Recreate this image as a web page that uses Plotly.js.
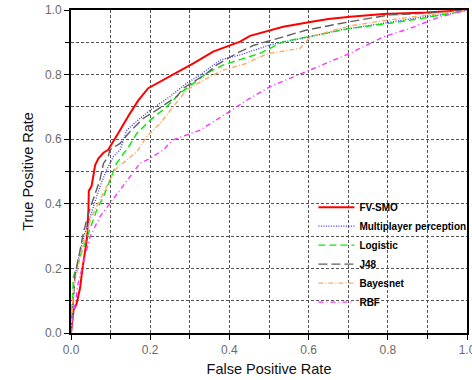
<!DOCTYPE html>
<html><head><meta charset="utf-8">
<script src="https://cdn.plot.ly/plotly-3.0.1.min.js"></script>
<style>html,body{margin:0;padding:0;background:#fff}#c{width:472px;height:380px}</style>
</head><body><div id="c"></div>
<script>
const seriesNames = ["FV-SMO","Multiplayer perception","Logistic","J48","Bayesnet","RBF"];

const smoX = [0,0.002,0.006,0.014,0.023,0.029,0.04,0.044,0.045,0.052,0.056,0.061,0.069,0.082,0.094,0.1,0.12,0.149,0.17,0.195,0.225,0.26,0.309,0.359,0.4,0.427,0.452,0.5,0.536,0.604,0.65,0.705,0.789,0.898,0.95,1];
const smoY = [0,0.02,0.07,0.09,0.14,0.2,0.29,0.38,0.44,0.455,0.485,0.52,0.54,0.558,0.567,0.58,0.62,0.68,0.72,0.758,0.778,0.8,0.835,0.871,0.89,0.902,0.92,0.935,0.948,0.963,0.972,0.979,0.988,0.992,0.995,1];

const mlpX = [0,0.002,0.01,0.018,0.035,0.056,0.073,0.09,0.107,0.124,0.141,0.17,0.2,0.25,0.292,0.326,0.376,0.427,0.477,0.503,0.604,0.679,0.789,0.89,0.957,1];
const mlpY = [0,0.05,0.174,0.226,0.309,0.391,0.453,0.505,0.546,0.567,0.628,0.66,0.69,0.732,0.773,0.799,0.845,0.861,0.881,0.892,0.917,0.938,0.959,0.979,0.988,1];

const logX = [0,0.006,0.023,0.048,0.065,0.082,0.098,0.115,0.136,0.141,0.166,0.2,0.242,0.275,0.309,0.343,0.385,0.435,0.477,0.536,0.62,0.705,0.806,0.89,1];
const logY = [0,0.174,0.236,0.319,0.381,0.422,0.474,0.525,0.561,0.567,0.618,0.659,0.701,0.742,0.773,0.804,0.83,0.85,0.866,0.902,0.923,0.943,0.959,0.975,1];

const j48X = [0,0.006,0.01,0.023,0.031,0.044,0.056,0.073,0.082,0.094,0.098,0.124,0.15,0.183,0.216,0.267,0.284,0.343,0.368,0.418,0.46,0.536,0.595,0.705,0.806,0.898,1];
const j48Y = [0,0.102,0.18,0.257,0.309,0.37,0.412,0.474,0.525,0.546,0.567,0.587,0.625,0.665,0.69,0.732,0.758,0.804,0.83,0.866,0.89,0.917,0.938,0.964,0.985,0.99,1];

const bayX = [0,0.006,0.023,0.04,0.056,0.077,0.094,0.111,0.141,0.166,0.191,0.225,0.258,0.292,0.334,0.385,0.444,0.477,0.503,0.578,0.604,0.705,0.789,0.898,1];
const bayY = [0,0.133,0.236,0.319,0.37,0.422,0.463,0.505,0.536,0.561,0.608,0.649,0.701,0.752,0.783,0.814,0.835,0.855,0.866,0.881,0.917,0.951,0.967,0.985,1];

const rbfX = [0,0.006,0.018,0.031,0.048,0.073,0.098,0.124,0.149,0.174,0.2,0.233,0.258,0.326,0.393,0.452,0.503,0.604,0.705,0.789,0.856,0.923,0.99,1];
const rbfY = [0,0.05,0.154,0.216,0.298,0.36,0.401,0.443,0.484,0.525,0.541,0.567,0.598,0.628,0.68,0.727,0.763,0.814,0.866,0.917,0.943,0.975,0.995,1];

const tickVals = [0,0.2,0.4,0.6,0.8,1.0];
const tickText = ["0.0","0.2","0.4","0.6","0.8","1.0"];

const xs = [smoX,mlpX,logX,j48X,bayX,rbfX];
const ys = [smoY,mlpY,logY,j48Y,bayY,rbfY];
const styles = [
  {color:"#ff0000", width:2, dash:"solid"},
  {color:"#3030ff", width:1.3, dash:"1px,1.5px"},
  {color:"#00ee00", width:1.4, dash:"7px,4px"},
  {color:"#606060", width:1.4, dash:"9px,4px"},
  {color:"#ffaa66", width:1.4, dash:"5px,2px,1px,2px"},
  {color:"#ff33ff", width:1.4, dash:"5px,3px,1px,3px"}
];

const traces = seriesNames.map((n,i)=>({
  x: xs[i], y: ys[i], name: n, type:"scatter", mode:"lines",
  line: styles[i]
}));

const axisCommon = {
  range:[0,1], showline:true, mirror:true, linecolor:"#000", linewidth:2,
  tickvals: tickVals, ticktext: tickText, ticks:"outside", ticklen:5, tickcolor:"#000",
  showgrid:true, gridcolor:"#555", griddash:"3px,2px", gridwidth:1,
  tickfont:{family:"Arial, Liberation Sans, sans-serif", size:12, color:"#6a6a6a"},
  ticklabeloverflow:"allow", automargin:false,
  zeroline:false, fixedrange:true,
  minor:{dtick:0.1, ticks:"outside", ticklen:4, tickcolor:"#000", showgrid:true, gridcolor:"#555", griddash:"3px,2px", gridwidth:1}
};

const layout = {
  width:472, height:380,
  margin:{l:71, r:5, t:10, b:47, autoexpand:false},
  paper_bgcolor:"#fff", plot_bgcolor:"#fff",
  showlegend:true,
  legend:{x:0.664, y:0.493, xref:"container", yref:"container", xanchor:"left", yanchor:"top", bgcolor:"rgba(0,0,0,0)",
    font:{family:"Arial, Liberation Sans, sans-serif", size:10, color:"#000", weight:"bold"},
    itemwidth:36, tracegroupgap:0},
  xaxis: Object.assign({}, axisCommon, {title:{text:"False Positive Rate", font:{family:"Arial, Liberation Sans, sans-serif", size:14.5, color:"#111"}, standoff:7}}),
  yaxis: Object.assign({}, axisCommon, {title:{text:"True Positive Rate", font:{family:"Arial, Liberation Sans, sans-serif", size:14.5, color:"#111"}, standoff:8}})
};

Plotly.newPlot("c", traces, layout, {displayModeBar:false, staticPlot:true});
</script></body></html>
